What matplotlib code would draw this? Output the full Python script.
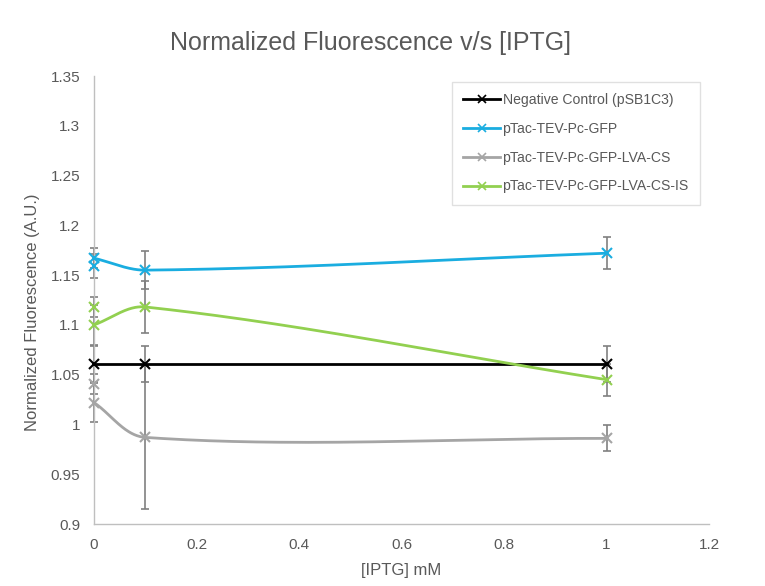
import numpy as np
import matplotlib
matplotlib.use("Agg")
import matplotlib.pyplot as plt

plt.rcParams['font.family'] = ['Liberation Sans', 'DejaVu Sans']

title = "Normalized Fluorescence v/s [IPTG]"
xlabel = "[IPTG] mM"
ylabel = "Normalized Fluorescence (A.U.)"

names = ["Negative Control (pSB1C3)", "pTac-TEV-Pc-GFP",
         "pTac-TEV-Pc-GFP-LVA-CS", "pTac-TEV-Pc-GFP-LVA-CS-IS"]
colors = ["#000000", "#1AADE0", "#A5A5A5", "#92D050"]

# extra replicate marker at x=0 (marker only)
neg_x0, neg_y0, neg_e0 = [], [], []
neg_x = [0, 0.1, 1]
neg_y = [1.061, 1.061, 1.061]
neg_e = [0.018, 0.018, 0.018]

gfp_x0, gfp_y0, gfp_e0 = [0], [1.159], [0.012]
gfp_x = [0, 0.1, 1]
gfp_y = [1.167, 1.155, 1.172]
gfp_e = [0.010, 0.019, 0.016]

cs_x0, cs_y0, cs_e0 = [0], [1.041], [0.010]
cs_x = [0, 0.1, 1]
cs_y = [1.022, 0.987, 0.986]
cs_e = [0.020, 0.072, 0.013]

is_x0, is_y0, is_e0 = [0], [1.118], [0.010]
is_x = [0, 0.1, 1]
is_y = [1.100, 1.118, 1.045]
is_e = [0.020, 0.026, 0.016]

series = [(neg_x0, neg_y0, neg_e0, neg_x, neg_y, neg_e, False),
          (gfp_x0, gfp_y0, gfp_e0, gfp_x, gfp_y, gfp_e, True),
          (cs_x0, cs_y0, cs_e0, cs_x, cs_y, cs_e, True),
          (is_x0, is_y0, is_e0, is_x, is_y, is_e, True)]

SX, SY = 512.0, 1000.0  # approx pixels per data unit (for smoothing geometry)


def smooth(xs, ys, n=80):
    P = np.column_stack([np.array(xs) * SX, np.array(ys) * SY]).astype(float)
    m = len(P)

    def unit(v):
        return v / np.linalg.norm(v)

    out = [P[0:1]]
    for i in range(m - 1):
        p1, p2 = P[i], P[i + 1]
        d = np.linalg.norm(p2 - p1)
        d1 = unit(p2 - P[i - 1]) if i > 0 else unit(p2 - p1)
        d2 = unit(P[i + 2] - p1) if i + 2 < m else unit(p2 - p1)
        c1 = p1 + d1 * d / 3.0
        c2 = p2 - d2 * d / 3.0
        t = np.linspace(0, 1, n)[1:, None]
        seg = ((1 - t) ** 3) * p1 + 3 * ((1 - t) ** 2) * t * c1 + 3 * (1 - t) * t ** 2 * c2 + t ** 3 * p2
        out.append(seg)
    A = np.vstack(out)
    return A[:, 0] / SX, A[:, 1] / SY


fig = plt.figure(figsize=(7.65, 5.86), dpi=100)
ax = fig.add_axes([94 / 765, 1 - 524 / 586, (709 - 94) / 765, (524 - 76) / 586])

for (x0, y0, e0, x, y, e, sm), c, nm in zip(series, colors, names):
    ax.errorbar(x0 + x, y0 + y, yerr=e0 + e, fmt='none', ecolor='#808080', elinewidth=1.2,
                capsize=3, capthick=1.2, zorder=2, clip_on=False)
    if sm:
        sx, sy = smooth(x, y)
    else:
        sx, sy = x, y
    ax.plot(sx, sy, color=c, lw=2.0, zorder=3, solid_capstyle='butt')
    ax.plot(x0 + x, y0 + y, ls='none', marker='x', ms=7, mew=1.5, color=c, zorder=4, clip_on=False)
    ax.plot([], [], color=c, lw=2.0, marker='x', ms=6, mew=1.2, label=nm)

ax.set_xlim(0, 1.2)
ax.set_ylim(0.9, 1.35)
ax.set_xticks(np.arange(0, 1.21, 0.2))
ax.set_yticks(np.arange(0.9, 1.351, 0.05))
ax.set_xticklabels(["0", "0.2", "0.4", "0.6", "0.8", "1", "1.2"])
ax.set_yticklabels(["0.9", "0.95", "1", "1.05", "1.1", "1.15", "1.2", "1.25", "1.3", "1.35"])
ax.tick_params(length=0, labelsize=11, colors='#595959', pad=10)
for s in ['top', 'right']:
    ax.spines[s].set_visible(False)
for s in ['left', 'bottom']:
    ax.spines[s].set_color('#BFBFBF')
    ax.spines[s].set_linewidth(1.0)

fig.text(370 / 765, 1 - 43 / 586, title, fontsize=18, color='#595959', ha='center', va='center')
ax.set_xlabel(xlabel, fontsize=12, color='#595959', labelpad=8)
ax.set_ylabel(ylabel, fontsize=12, color='#595959')
ax.yaxis.set_label_coords(-(94 - 40) / 615, (524 - 312) / 448)

leg = fig.legend(loc='upper right', bbox_to_anchor=(700 / 765, 1 - 82 / 586), fontsize=10.1,
                 frameon=True, fancybox=False, handlelength=2.65, handletextpad=0.15,
                 labelspacing=1.05, borderpad=0.8, borderaxespad=0, labelcolor='#595959')
leg.get_frame().set_edgecolor('#D9D9D9')
leg.get_frame().set_linewidth(1.0)

fig.savefig("out.png", dpi=100)
